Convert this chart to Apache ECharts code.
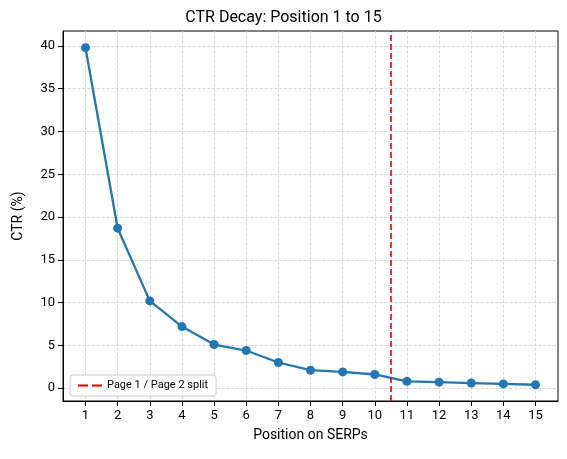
<!DOCTYPE html><html><head><meta charset="utf-8"><script src="https://cdn.jsdelivr.net/npm/echarts@6/dist/echarts.min.js"></script></head><body style="margin:0"><div id="c" style="width:567px;height:459px"></div><script>
const positions=[1,2,3,4,5,6,7,8,9,10,11,12,13,14,15];
const ctr=[39.8,18.7,10.2,7.2,5.1,4.4,3.0,2.1,1.9,1.6,0.8,0.7,0.6,0.5,0.4];
const yTicks=[0,5,10,15,20,25,30,35,40];
const splitPos=10.5;
const F='Roboto, DejaVu Sans, sans-serif';
const ch=echarts.init(document.getElementById('c'));
const grid={type:'dashed',color:'#cfcfcf',width:0.8};
ch.setOption({animation:false,
title:{text:'CTR Decay: Position 1 to 15',left:'center',top:5,textStyle:{fontFamily:F,fontSize:16,fontWeight:'normal',color:'#000'}},
grid:{left:63,right:9,top:31,bottom:58,show:true,borderColor:'#000',borderWidth:1,backgroundColor:'transparent'},
xAxis:{type:'value',min:0.3,max:15.7,name:'Position on SERPs',nameLocation:'middle',nameGap:27,nameTextStyle:{fontFamily:F,fontSize:14,color:'#000'},
 axisLine:{onZero:false,lineStyle:{color:'#000'}},axisTick:{customValues:positions,lineStyle:{color:'#000'}},
 axisLabel:{customValues:positions,fontFamily:F,fontSize:13,color:'#000'},splitLine:{show:true,lineStyle:grid}},
yAxis:{type:'value',min:-1.5,max:41.75,name:'CTR (%)',nameLocation:'middle',nameGap:38,nameTextStyle:{fontFamily:F,fontSize:14,color:'#000'},
 axisLine:{show:true,lineStyle:{color:'#000'}},axisTick:{show:true,customValues:yTicks,lineStyle:{color:'#000'}},
 axisLabel:{customValues:yTicks,fontFamily:F,fontSize:13,color:'#000'},splitLine:{show:true,lineStyle:grid}},
legend:{show:true,left:70,bottom:63,orient:'vertical',backgroundColor:'#fff',borderColor:'#ccc',borderWidth:1,borderRadius:3,padding:[5,8],
 itemWidth:24,itemHeight:2,textStyle:{fontFamily:F,fontSize:11,color:'#000'},data:[{name:'Page 1 / Page 2 split',icon:'path://M0,0H10V2H0ZM14,0H24V2H14Z'}]},
series:[
{type:'line',name:'CTR',data:positions.map((p,i)=>[p,ctr[i]]),symbol:'circle',symbolSize:9,lineStyle:{color:'#1f77b4',width:2.3},itemStyle:{color:'#1f77b4'},z:3},
{type:'line',name:'Page 1 / Page 2 split',data:[],itemStyle:{color:'#e00000'},lineStyle:{color:'#e00000',type:'dashed'},
 markLine:{symbol:'none',silent:true,label:{show:false},lineStyle:{color:'#e00000',type:[6,3],width:1.6},data:[{xAxis:splitPos}]}}
]});
</script></body></html>
